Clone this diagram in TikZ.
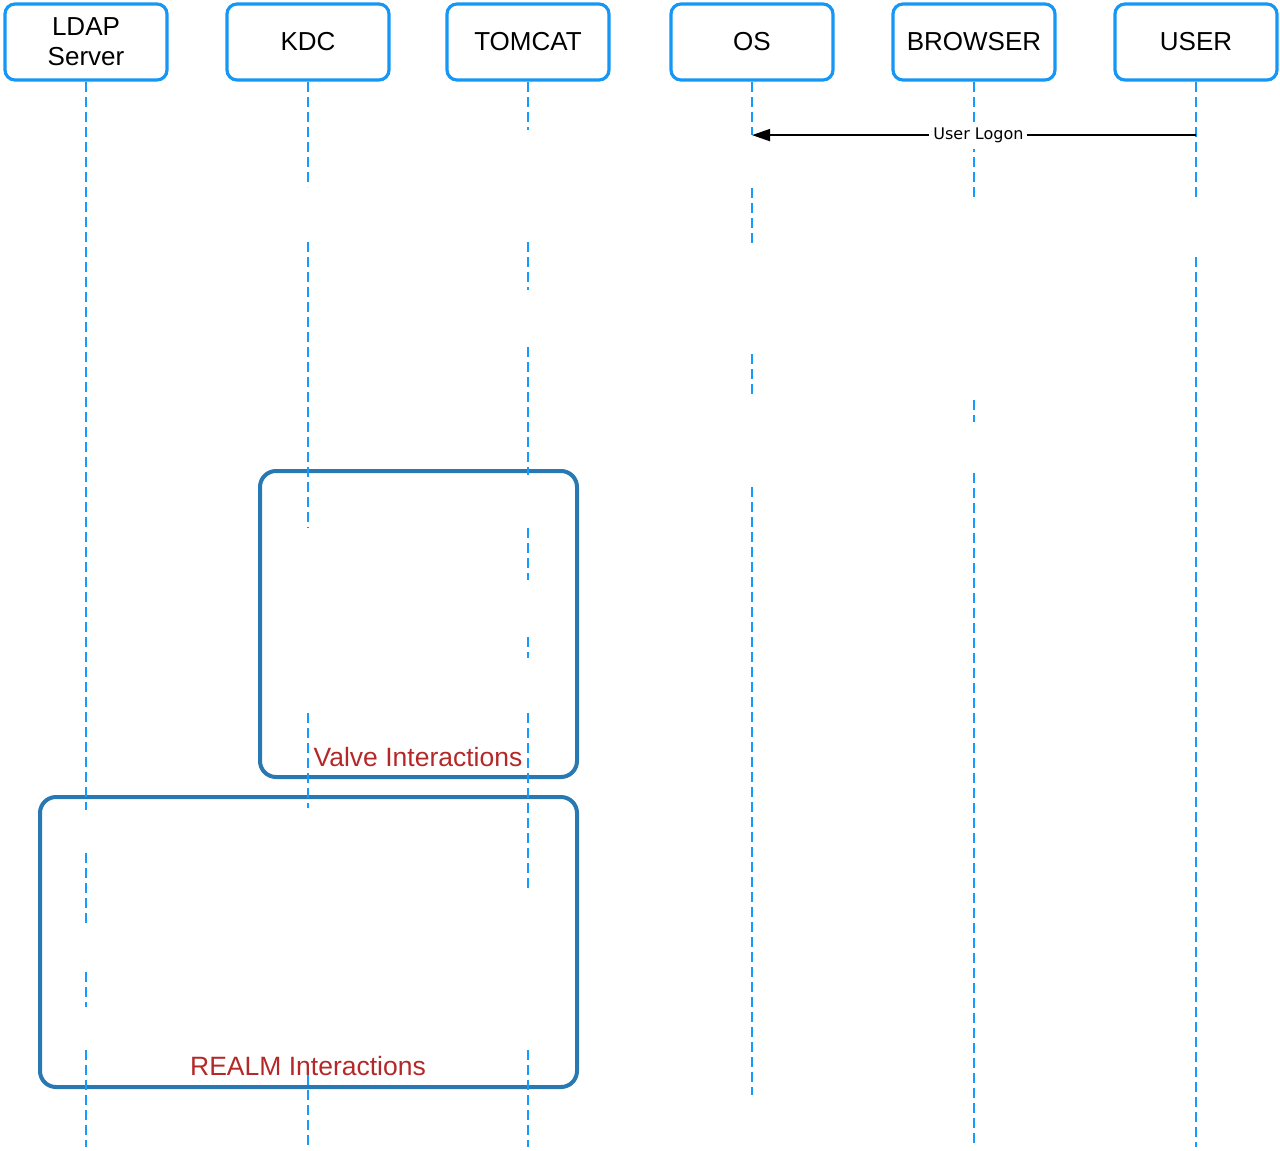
\documentclass[tikz,border=0pt]{standalone}
\usepackage{fontspec}
\setmainfont{Liberation Sans}
\newfontfamily\dejavu{DejaVu Sans}
\usetikzlibrary{calc,arrows.meta}
\definecolor{headblue}{RGB}{22,150,245}
\definecolor{lifeblue}{RGB}{20,155,255}
\definecolor{groupblue}{RGB}{40,120,180}
\definecolor{grouptext}{RGB}{180,40,40}
\begin{document}
\begin{tikzpicture}[x=1pt,y=-1pt,
  actor/.style={draw=headblue, line width=3.2pt, rounded corners=10pt, fill=white,
    minimum width=162pt, minimum height=76pt, inner sep=0pt, align=center,
    font=\fontsize{26}{30}\selectfont},
  groupbox/.style={draw=groupblue, line width=4pt, rounded corners=16pt, inner sep=0pt},
  grouplabel/.style={text=grouptext, font=\fontsize{26.5}{30}\selectfont, inner sep=0pt},
  life/.style={draw=lifeblue, line width=1.7pt, dash pattern=on 10pt off 5pt},
  msg/.style={draw=black, line width=1.8pt, -{Triangle[length=18pt,width=12pt]}},
  msglabel/.style={fill=white, inner xsep=4pt, inner ysep=6pt, font=\dejavu\fontsize{16}{18}\selectfont}
]
\useasboundingbox (0,0) rectangle (1280,1151);

% group frames
\node[groupbox, minimum width=317pt, minimum height=306pt] (valve) at (418.5,624) {};
\node[groupbox, minimum width=537pt, minimum height=290pt] (realm) at (308.5,942) {};
\node[grouplabel] (valvelbl) at (418,757) {Valve Interactions};
\node[grouplabel] (realmlbl) at (308,1066) {REALM Interactions};

% actors
\node[actor] (ldap)    at (86,42)   {LDAP\\Server};
\node[actor] (kdc)     at (308,42)  {KDC};
\node[actor] (tomcat)  at (528,42)  {TOMCAT};
\node[actor] (os)      at (752,42)  {OS};
\node[actor] (browser) at (974,42)  {BROWSER};
\node[actor] (user)    at (1196,42) {USER};

% lifelines (with the gaps of the reference)
\foreach \a/\b in {82/810,853/927,972/1007,1050/1147}
  \draw[life] ($(ldap.south)+(0,\a-81.5)$) -- ($(ldap.south)+(0,\b-81.5)$);
\foreach \a/\b in {82/187,242/528,713/808,1075/1147}
  \draw[life] ($(kdc.south)+(0,\a-81.5)$) -- ($(kdc.south)+(0,\b-81.5)$);
\foreach \a/\b in {82/130,242/290,347/475,528/580,637/658,713/888,1050/1147}
  \draw[life] ($(tomcat.south)+(0,\a-81.5)$) -- ($(tomcat.south)+(0,\b-81.5)$);
\foreach \a/\b in {82/135,188/243,354/397,487/1095}
  \draw[life] ($(os.south)+(0,\a-81.5)$) -- ($(os.south)+(0,\b-81.5)$);
\foreach \a/\b in {82/200,400/422,473/1147}
  \draw[life] ($(browser.south)+(0,\a-81.5)$) -- ($(browser.south)+(0,\b-81.5)$);
\foreach \a/\b in {82/200,257/1147}
  \draw[life] ($(user.south)+(0,\a-81.5)$) -- ($(user.south)+(0,\b-81.5)$);

% message
\coordinate (u1) at ($(user.south)+(0,53.5)$);
\coordinate (o1) at ($(os.south)+(0,53.5)$);
\draw[msg] (u1) -- node[msglabel, pos=0.49] (logon) {User Logon} (o1);
\end{tikzpicture}
\end{document}
